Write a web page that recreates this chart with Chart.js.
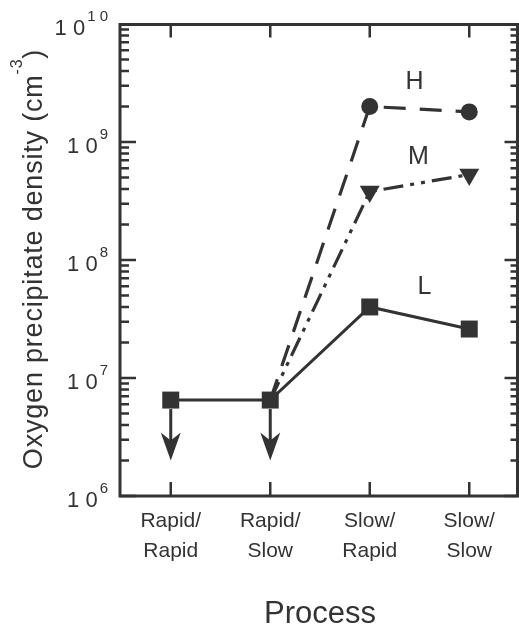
<!DOCTYPE html>
<html>
<head>
<meta charset="utf-8">
<script src="https://cdn.jsdelivr.net/npm/chart.js@4"></script>
<style>
  body { margin: 0; background: #fff; }
  #wrap { width: 519px; height: 633px; }
</style>
</head>
<body>
<div id="wrap"><canvas id="precipChart"></canvas></div>
<script>
const processes = [["Rapid/", "Rapid"], ["Rapid/", "Slow"], ["Slow/", "Rapid"], ["Slow/", "Slow"]];
const densityL = [6.5e6, 6.5e6, 4.0e7, 2.6e7];
const densityM = [null, 6.5e6, 3.8e8, 5.3e8];
const densityH = [null, 6.5e6, 2.0e9, 1.8e9];
// upper limits: arrows drop from the L points down to these values
const upperLimitTo = [2.0e6, 2.0e6, null, null];
const decadeTicks = [1e6, 1e7, 1e8, 1e9, 1e10];
// series name labels, placed in data space
const seriesNames = ["H", "M", "L"];
const nameValues = [3.2e9, 7.4e8, 5.9e7];
const nameSlots = [2.45, 2.49, 2.55];

const ink = "#333";
const family = "'Liberation Sans', Arial, Helvetica, sans-serif";

const framePlugin = {
  id: "frame",
  afterDraw(chart) {
    const { ctx, chartArea: a, scales } = chart;
    const x = scales.x, y = scales.y;
    const left = a.left - 1, right = a.right - 1.5, top = a.top + 0.5, bottom = a.bottom;
    ctx.save();
    ctx.strokeStyle = ink;
    ctx.fillStyle = ink;
    ctx.lineWidth = 3;
    ctx.strokeRect(left, top, right - left, bottom - top);

    // tick marks, all pointing inward
    ctx.lineWidth = 2.5;
    ctx.beginPath();
    processes.forEach((p, i) => {
      const px = x.getPixelForValue(i);
      ctx.moveTo(px, top); ctx.lineTo(px, top + 13);
      ctx.moveTo(px, bottom); ctx.lineTo(px, bottom - 14);
    });
    for (let k = 0; k < decadeTicks.length - 1; k++) {
      for (let m = 1; m < 10; m++) {
        const py = y.getPixelForValue(m * decadeTicks[k]);
        const major = m === 1;
        ctx.moveTo(left, py); ctx.lineTo(left + (major ? 16 : 9), py);
        ctx.moveTo(right, py); ctx.lineTo(right - (major ? 13 : 7), py);
      }
    }
    ctx.stroke();

    // y tick labels as 10 with superscript exponent
    ctx.textBaseline = "alphabetic";
    ctx.textAlign = "left";
    decadeTicks.forEach((v) => {
      const py = y.getPixelForValue(v);
      const exp = String(Math.round(Math.log10(v))).split("").join(" ");
      ctx.font = `15px ${family}`;
      const ws = ctx.measureText(exp).width;
      ctx.font = `22px ${family}`;
      const wb = ctx.measureText("1 0").width;
      const supX = a.left - 13 - ws;
      ctx.fillText("1 0", supX - 2 - wb, py + 10.5);
      ctx.font = `15px ${family}`;
      ctx.fillText(exp, supX, py - 3.5);
    });

    // y axis title
    ctx.save();
    ctx.translate(42, (a.top + a.bottom) / 2 - 1);
    ctx.rotate(-Math.PI / 2);
    ctx.letterSpacing = "0.8px";
    const mainText = "Oxygen precipitate density (cm";
    ctx.font = `27px ${family}`;
    const w1 = ctx.measureText(mainText).width;
    const w3 = ctx.measureText(")").width;
    ctx.font = `16px ${family}`;
    const w2 = ctx.measureText("-3").width;
    let tx = -(w1 + w2 + w3) / 2;
    ctx.font = `27px ${family}`;
    ctx.fillText(mainText, tx, 0);
    tx += w1;
    ctx.font = `16px ${family}`;
    ctx.fillText("-3", tx, -20);
    tx += w2;
    ctx.font = `27px ${family}`;
    ctx.fillText(")", tx, 0);
    ctx.restore();

    // series names
    ctx.font = `25px ${family}`;
    ctx.textAlign = "center";
    ctx.textBaseline = "middle";
    seriesNames.forEach((n, i) => {
      ctx.fillText(n, x.getPixelForValue(nameSlots[i]), y.getPixelForValue(nameValues[i]));
    });

    // downward arrows for upper limits
    ctx.lineWidth = 3;
    upperLimitTo.forEach((tip, i) => {
      if (tip === null) return;
      const px = x.getPixelForValue(i);
      const y0 = y.getPixelForValue(densityL[i]) + 9;
      const y1 = y.getPixelForValue(tip);
      ctx.beginPath();
      ctx.moveTo(px, y0); ctx.lineTo(px, y1 - 12);
      ctx.stroke();
      ctx.beginPath();
      ctx.moveTo(px, y1);
      ctx.lineTo(px - 10, y1 - 28);
      ctx.lineTo(px, y1 - 20);
      ctx.lineTo(px + 10, y1 - 28);
      ctx.closePath();
      ctx.fill();
    });
    ctx.restore();
  },
};

const ctx = document.getElementById("precipChart").getContext("2d");
new Chart(ctx, {
  type: "line",
  data: {
    labels: processes,
    datasets: [
      {
        label: "L",
        data: densityL,
        borderColor: ink,
        backgroundColor: ink,
        borderWidth: 3,
        pointStyle: "rect",
        pointRadius: 12,
        pointBorderWidth: 0,
      },
      {
        label: "M",
        data: densityM,
        borderColor: ink,
        backgroundColor: ink,
        borderWidth: 3.2,
        borderDash: [20, 7, 4, 7, 4, 7],
        pointStyle: "triangle",
        rotation: 180,
        pointRadius: [0, 0, 11.5, 11.5],
        pointBorderWidth: 0,
      },
      {
        label: "H",
        data: densityH,
        borderColor: ink,
        backgroundColor: ink,
        borderWidth: 3.2,
        borderDash: [22, 14],
        pointStyle: "circle",
        pointRadius: [0, 0, 8.5, 8.5],
        pointBorderWidth: 0,
      },
    ],
  },
  options: {
    responsive: true,
    maintainAspectRatio: false,
    animation: false,
    layout: { autoPadding: false, padding: { top: 24, right: 0, bottom: 0, left: 0 } },
    plugins: { legend: { display: false }, tooltip: { enabled: false } },
    scales: {
      x: {
        type: "category",
        offset: true,
        grid: { display: false, drawTicks: false },
        border: { display: false },
        ticks: { color: ink, padding: 10, font: { family, size: 21, lineHeight: 1.43 } },
        title: { display: true, text: "Process", color: ink, font: { family, size: 31 }, padding: 0 },
        afterFit: (s) => {
          s.height = 137;
          s.paddingLeft = 0;
          s.paddingRight = 0;
        },
      },
      y: {
        type: "logarithmic",
        min: 1e6,
        max: 1e10,
        grid: { display: false },
        border: { display: false },
        ticks: { display: false },
        afterFit: (s) => { s.width = 121; },
      },
    },
  },
  plugins: [framePlugin],
});
</script>
</body>
</html>
